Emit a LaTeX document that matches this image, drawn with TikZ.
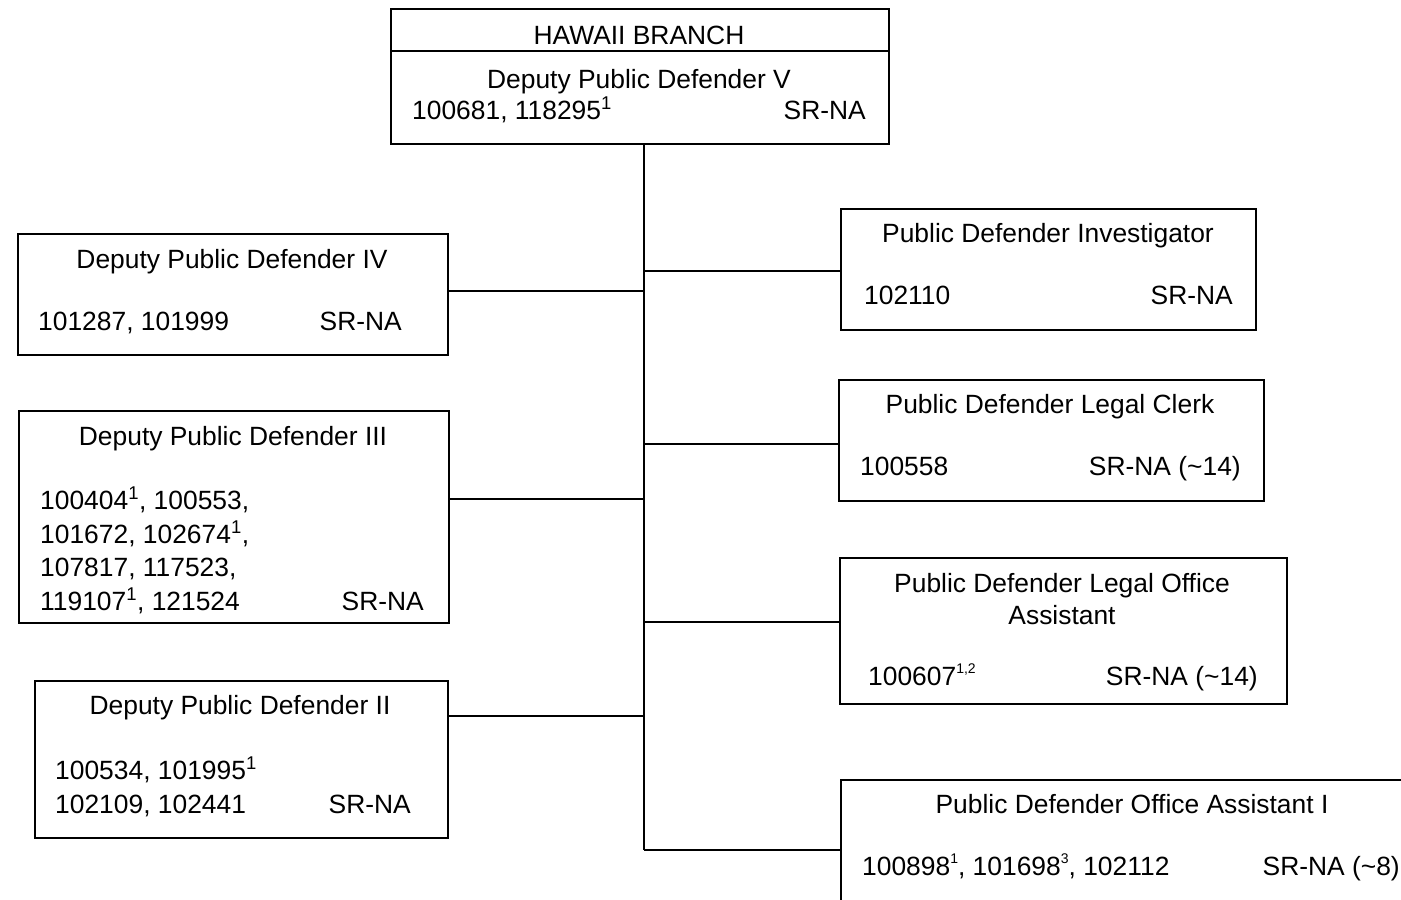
\documentclass[tikz,border=0pt]{standalone}
\usepackage{fontspec}
\setmainfont{Liberation Sans}
\usetikzlibrary{positioning}
\tikzset{
  posbox/.style={draw, line width=1.8pt, anchor=north west, inner sep=0pt},
  title/.style={anchor=base, inner sep=0pt},
  nums/.style={anchor=base west, inner sep=0pt},
  srna/.style={anchor=base east, inner sep=0pt},
  link/.style={line width=1.6pt},
}
\newcommand{\fn}[1]{\textsuperscript{#1}}
\newcommand{\fnsmall}[1]{\raisebox{0.45em}{\fontsize{14}{14}\selectfont #1}}

\begin{document}
\begin{tikzpicture}[x=1pt,y=-1pt,font=\fontsize{26.4}{33.7}\selectfont]
    \clip (0,0) rectangle (1401,900);
    \fill[white] (0,0) rectangle (1401,900);
    \node[posbox, minimum width=498pt, minimum height=135pt] (branch) at (390,8) {};
    \draw[line width=1.8pt] ([yshift=-43pt]branch.north west) -- ([yshift=-43pt]branch.north east);
    \node[title] (branch-name) at (639,44) {HAWAII BRANCH};
    \node[title] (dpd5-title) at (639,88) {Deputy Public Defender V};
    \node[nums] (dpd5-num) at (412,119) {100681, 118295\fn{1}};
    \node[srna] (dpd5-sr) at (866,119) {SR-NA};

    \node[posbox, minimum width=430pt, minimum height=121pt] (dpd4) at (17,233) {};
    \node[title] (dpd4-title) at (232,268) {Deputy Public Defender IV};
    \node[nums] (dpd4-num) at (38,330) {101287, 101999};
    \node[srna] (dpd4-sr) at (402,330) {SR-NA};

    \node[posbox, minimum width=430pt, minimum height=212pt] (dpd3) at (18,410) {};
    \node[title] (dpd3-title) at (233,445) {Deputy Public Defender III};
    \node[nums] (dpd3-num1) at (40,509) {100404\fn{1}, 100553,};
    \node[nums] (dpd3-num2) at (40,543) {101672, 102674\fn{1},};
    \node[nums] (dpd3-num3) at (40,576) {107817, 117523,};
    \node[nums] (dpd3-num4) at (40,610) {119107\fn{1}, 121524};
    \node[srna] (dpd3-sr) at (424,610) {SR-NA};

    \node[posbox, minimum width=413pt, minimum height=157pt] (dpd2) at (34,680) {};
    \node[title] (dpd2-title) at (240,714) {Deputy Public Defender II};
    \node[nums] (dpd2-num1) at (55,779) {100534, 101995\fn{1}};
    \node[nums] (dpd2-num2) at (55,813) {102109, 102441};
    \node[srna] (dpd2-sr) at (411,813) {SR-NA};

    \node[posbox, minimum width=415pt, minimum height=121pt] (pdi) at (840,208) {};
    \node[title] (pdi-title) at (1048,242) {Public Defender Investigator};
    \node[nums] (pdi-num) at (864,304) {102110};
    \node[srna] (pdi-sr) at (1233,304) {SR-NA};

    \node[posbox, minimum width=425pt, minimum height=121pt] (pdlc) at (838,379) {};
    \node[title] (pdlc-title) at (1050,413) {Public Defender Legal Clerk};
    \node[nums] (pdlc-num) at (860,475) {100558};
    \node[srna] (pdlc-sr) at (1241,475) {SR-NA (\textasciitilde14)};

    \node[posbox, minimum width=447pt, minimum height=146pt] (pdloa) at (839,557) {};
    \node[title] (pdloa-title1) at (1062,592) {Public Defender Legal Office};
    \node[title] (pdloa-title2) at (1062,624) {Assistant};
    \node[nums] (pdloa-num) at (868,685) {100607\fnsmall{1,2}};
    \node[srna] (pdloa-sr) at (1258,685) {SR-NA (\textasciitilde14)};

    \node[posbox, minimum width=600pt, minimum height=200pt] (pdoa) at (840,779) {};
    \node[title] (pdoa-title) at (1132,813) {Public Defender Office Assistant I};
    \node[nums] (pdoa-num) at (862,875) {100898\fnsmall{1}, 101698\fnsmall{3}, 102112};
    \node[srna] (pdoa-sr) at (1400,875) {SR-NA (\textasciitilde8)};

    \coordinate (trunk-end) at (644,850);
    \coordinate (j-pdi) at (644,271);
    \coordinate (j-dpd4) at (644,291);
    \coordinate (j-pdlc) at (644,444);
    \coordinate (j-dpd3) at (644,499);
    \coordinate (j-pdloa) at (644,622);
    \coordinate (j-dpd2) at (644,716);
    \draw[link] (trunk-end |- branch.south) -- (trunk-end);
    \draw[link] (j-pdi) -- (j-pdi -| pdi.west);
    \draw[link] (j-dpd4) -- (j-dpd4 -| dpd4.east);
    \draw[link] (j-pdlc) -- (j-pdlc -| pdlc.west);
    \draw[link] (j-dpd3) -- (j-dpd3 -| dpd3.east);
    \draw[link] (j-pdloa) -- (j-pdloa -| pdloa.west);
    \draw[link] (j-dpd2) -- (j-dpd2 -| dpd2.east);
    \draw[link] (trunk-end) -- (trunk-end -| pdoa.west);
\end{tikzpicture}
\end{document}
